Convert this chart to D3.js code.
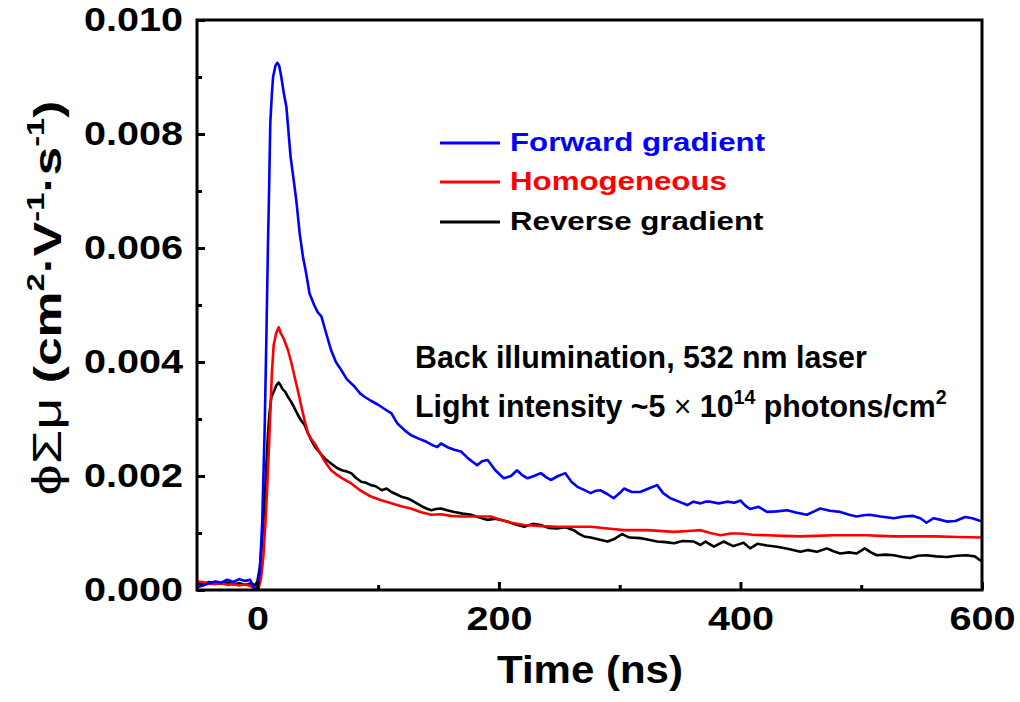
<!DOCTYPE html>
<html><head><meta charset="utf-8">
<script src="https://cdn.jsdelivr.net/npm/d3@7"></script>
<style>body{margin:0;background:#fff} text{font-family:"Liberation Sans",Arial,sans-serif;}</style>
</head><body><svg id="c" width="1020" height="702"></svg>
<script>
const xTicks = [0, 200, 400, 600];
const xMinorTicks = [100, 300, 500];
const yTicks = [0, 0.002, 0.004, 0.006, 0.008, 0.010];
const yMinorTicks = [0.001, 0.003, 0.005, 0.007, 0.009];
const seriesNames = ["Forward gradient", "Homogeneous", "Reverse gradient"];
const seriesColors = ["#0000ff", "#ff0000", "#000000"];

// [time (ns), phi*Sum(mu) (cm2 V-1 s-1)]
const forward = [[-50,0.00005],[-45,0.00008],[-40,0.00012],[-35,0.00015],[-30,0.00013],[-25,0.00018],[-20,0.00014],[-15,0.00019],[-10,0.00016],[-6,0.00018],[-3,0.00004],[0,0.00003],[2,0.0003],[4,0.0012],[6,0.0028],[7.5,0.0045],[8.8,0.0061],[9.4,0.0067],[10.7,0.0082],[12,0.0087],[13,0.0090],[15,0.0092],[16.5,0.00925],[18,0.0092],[19.8,0.0090],[22,0.0087],[24,0.00848],[27.5,0.0076],[30,0.0072],[32.2,0.00684],[35,0.00626],[37.7,0.00585],[40,0.0056],[43.2,0.0052],[47,0.0050],[50,0.00487],[53,0.0048],[57,0.0045],[61,0.00421],[65,0.0040],[69.4,0.00386],[74,0.0037],[80.4,0.00357],[85,0.00345],[88.7,0.00339],[94,0.00332],[100,0.00325],[105,0.00318],[111,0.0031],[116,0.00292],[122,0.0028],[127,0.00272],[133,0.00266],[140,0.0026],[145,0.00254],[149,0.00251],[152,0.00257],[158,0.0025],[163,0.00246],[168.6,0.00243],[175,0.0023],[182,0.00219],[186,0.00226],[190.7,0.00228],[197,0.0021],[204,0.00196],[210,0.002],[215,0.0021],[219,0.00202],[223.7,0.00196],[229,0.002],[234.7,0.00205],[239,0.00198],[243,0.00193],[249,0.002],[255,0.00205],[260,0.0019],[265,0.00181],[270,0.00176],[276,0.0017],[280,0.00174],[284,0.00175],[290,0.00168],[295,0.00161],[300,0.0017],[303.6,0.00178],[310,0.00172],[317,0.00172],[324,0.00178],[331,0.00184],[336,0.0017],[342,0.00161],[349,0.00155],[356,0.00149],[361,0.00155],[367,0.00152],[371,0.00155],[375,0.00155],[382,0.00152],[389,0.00155],[395,0.00153],[400,0.00157],[404,0.00148],[408,0.00142],[415,0.00146],[422,0.00137],[430,0.00138],[438.6,0.0014],[446,0.00136],[455,0.00132],[461,0.00138],[466,0.00143],[474,0.00139],[482.6,0.00137],[490,0.00132],[496,0.00129],[502,0.00131],[507,0.00132],[516,0.00129],[527,0.00126],[535,0.00129],[543,0.0013],[549,0.00126],[554,0.00118],[560,0.00126],[566,0.00123],[571,0.0012],[578,0.00121],[586,0.00128],[592,0.00126],[600,0.0012]];

const homogeneous = [[-50,0.00015],[-45,0.00014],[-40,0.00011],[-35,0.0001],[-30,0.00012],[-25,0.00009],[-20,0.0001],[-15,0.00008],[-10,0.0001],[-5,0.00006],[-2,0.00003],[1,0.00003],[3,0.0002],[5,0.0006],[7,0.0013],[9,0.0022],[10.5,0.003],[12,0.0038],[13.5,0.0043],[15.5,0.0045],[17.6,0.00461],[19.5,0.0045],[22,0.0044],[25.3,0.00421],[28,0.004],[30.8,0.00374],[33.5,0.0035],[36.4,0.00322],[39,0.00298],[41.9,0.00275],[44.6,0.00265],[47.4,0.00257],[52,0.0024],[56,0.00225],[61,0.0021],[66,0.00202],[71,0.00195],[77.7,0.00187],[85,0.00175],[94,0.00164],[102,0.00158],[111,0.00152],[119,0.00147],[127,0.00143],[135,0.00137],[144,0.00132],[152,0.00133],[160,0.0013],[168.6,0.00129],[180,0.00129],[193,0.00129],[200,0.00124],[210,0.00118],[221,0.00114],[235,0.00112],[248.5,0.00111],[262,0.00111],[276,0.00111],[290,0.00108],[303.6,0.00105],[323,0.00105],[345,0.00102],[360,0.00104],[367,0.00105],[375,0.001],[383.5,0.00096],[392,0.00099],[400,0.00099],[410,0.00097],[422,0.00096],[435,0.00095],[449.6,0.00094],[463,0.00095],[477,0.00096],[490,0.00096],[504.7,0.00096],[515,0.00095],[527,0.00094],[545,0.00094],[560,0.00094],[580,0.00093],[600,0.00092]];

const reverse = [[-50,0.00012],[-45,0.0001],[-40,0.00014],[-35,0.00012],[-30,0.00011],[-25,0.00013],[-20,0.0001],[-15,0.00012],[-10,0.00009],[-5,0.00012],[-2,0.00008],[0,0.00015],[2,0.0004],[3.3,0.0007],[5,0.0012],[6,0.00158],[7.5,0.0022],[8.8,0.00275],[10,0.0031],[11.6,0.00339],[14,0.0035],[16,0.0036],[17.6,0.00364],[19,0.0036],[21,0.00352],[23,0.00348],[25.3,0.00339],[28,0.0033],[30,0.00322],[33.6,0.00307],[36,0.00298],[39,0.0029],[41.9,0.00275],[44.6,0.00263],[48,0.0025],[52,0.0024],[56,0.0023],[61,0.00222],[66,0.00214],[70,0.0021],[74,0.00208],[77.7,0.00205],[82,0.00196],[86,0.0019],[90,0.00188],[94,0.00184],[98,0.00182],[103,0.00175],[107,0.00178],[111,0.00172],[115,0.00168],[120,0.00163],[124,0.00161],[127,0.00158],[132,0.00152],[136,0.00147],[140,0.00143],[144,0.0014],[148,0.00142],[152,0.00143],[157,0.0014],[163,0.00137],[170,0.00134],[177,0.00132],[184,0.00127],[190.7,0.00123],[197,0.00125],[207,0.0012],[214,0.00115],[221,0.00111],[228,0.00116],[234.7,0.00114],[241,0.00109],[248.5,0.00108],[255,0.0011],[262,0.00105],[266,0.00099],[270.5,0.00094],[276,0.00092],[282,0.00089],[290,0.00085],[296,0.0009],[302,0.00098],[308,0.00092],[317,0.00091],[324,0.00088],[331,0.00085],[338,0.00084],[345,0.00082],[352,0.00086],[361.4,0.00085],[367,0.00079],[371,0.00085],[378,0.00076],[386,0.00085],[394,0.00077],[402.6,0.00083],[408,0.00073],[414,0.00081],[422,0.00078],[430.3,0.00076],[440,0.00072],[449.6,0.00067],[456,0.0007],[463.4,0.00067],[471.6,0.00073],[477,0.00068],[482.6,0.00064],[490,0.00066],[496,0.00064],[503,0.00073],[508,0.00066],[513,0.00061],[520,0.00062],[527,0.00061],[534,0.00058],[540.5,0.00056],[547,0.0006],[554,0.00061],[562,0.00059],[571,0.00058],[579,0.0006],[587,0.00061],[594,0.00059],[600,0.0005]];

const allSeries = [forward, homogeneous, reverse];

const svg = d3.select("#c");
const L = 197, T = 20, R = 982, B = 590;
const x = d3.scaleLinear().domain([-50, 600]).range([L, R]);
const y = d3.scaleLinear().domain([0, 0.010]).range([B, T]);

svg.append("defs").append("clipPath").attr("id","clip")
  .append("rect").attr("x", L).attr("y", T).attr("width", R - L).attr("height", B - T);

const line = d3.line().x(d => x(d[0])).y(d => y(d[1]));
const plot = svg.append("g").attr("clip-path", "url(#clip)");
[2,1,0].forEach(i => {
  plot.append("path").datum(allSeries[i])
    .attr("d", line).attr("fill", "none")
    .attr("stroke", seriesColors[i]).attr("stroke-width", 2.6)
    .attr("stroke-linejoin", "round");
});

// axes
const SX = 1.2;
const yAx = svg.append("g").attr("transform", `translate(${L},0)`)
  .call(d3.axisLeft(y).tickValues(yTicks).tickSize(-8).tickPadding(14).tickFormat(d3.format(".3f")));
const yAxMinor = svg.append("g").attr("transform", `translate(${L},0)`)
  .call(d3.axisLeft(y).tickValues(yMinorTicks).tickSize(-5).tickFormat(""));
const xAx = svg.append("g").attr("transform", `translate(0,${B})`)
  .call(d3.axisBottom(x).tickValues(xTicks).tickSize(-8).tickPadding(17).tickFormat(d3.format("d")));
const xAxMinor = svg.append("g").attr("transform", `translate(0,${B})`)
  .call(d3.axisBottom(x).tickValues(xMinorTicks).tickSize(-5).tickFormat(""));
[yAx, yAxMinor, xAx, xAxMinor].forEach(g => {
  g.select(".domain").remove();
  g.selectAll(".tick line").attr("stroke", "#000").attr("stroke-width", 3);
  g.selectAll("text").attr("font-size", 33).attr("font-weight", "bold").attr("fill", "#000")
    .attr("font-family", '"Liberation Sans", Arial, sans-serif');
});
yAx.selectAll(".tick text").each(function() {
  const t = d3.select(this); const xx = +t.attr("x");
  t.attr("x", 0).attr("transform", `translate(${xx},0) scale(${SX},1)`);
});
xAx.selectAll(".tick text").each(function() {
  const t = d3.select(this); const yy = +t.attr("y");
  t.attr("y", 0).attr("transform", `translate(0,${yy}) scale(${SX},1)`);
});

// frame
svg.append("rect").attr("x", L).attr("y", T).attr("width", R - L).attr("height", B - T)
  .attr("fill", "none").attr("stroke", "#000").attr("stroke-width", 3);

function fit(textSel, target) {
  const w = textSel.node().getBBox().width;
  return target / w;
}

// x title
const xt = svg.append("g").attr("transform", "translate(590,683)")
  .append("text").attr("text-anchor", "middle").attr("font-size", 38).attr("font-weight", "bold")
  .text("Time (ns)");
xt.attr("transform", `scale(${fit(xt, 186)},1)`);

// y title
const yg = svg.append("g").attr("transform", "translate(61,298) rotate(-90)");
const ytx = yg.append("text").attr("text-anchor", "middle").attr("font-size", 38).attr("font-weight", "bold");
ytx.append("tspan").attr("font-weight", "normal").attr("font-size", 41).text("ϕΣμ");
ytx.append("tspan").text(" (cm");
ytx.append("tspan").attr("font-size", 24).attr("dy", -17).text("2");
ytx.append("tspan").attr("dy", 17).text("·V");
ytx.append("tspan").attr("font-size", 24).attr("dy", -17).text("-1");
ytx.append("tspan").attr("dy", 17).text("·s");
ytx.append("tspan").attr("font-size", 24).attr("dy", -17).text("-1");
ytx.append("tspan").attr("dy", 17).text(")");
ytx.attr("transform", `scale(${fit(ytx, 395)},1)`);

// legend
const legY = [143, 182, 222];
const LSX = 1.25;
seriesNames.forEach((name, i) => {
  svg.append("line").attr("x1", 440).attr("x2", 500).attr("y1", legY[i]).attr("y2", legY[i])
    .attr("stroke", seriesColors[i]).attr("stroke-width", 3);
  const g = svg.append("g").attr("transform", `translate(510,${legY[i] + 8})`);
  const t = g.append("text").attr("font-size", 25).attr("font-weight", "bold")
    .attr("fill", seriesColors[i]).text(name);
  t.attr("transform", `scale(${LSX},1)`);
});

// annotations
const a1g = svg.append("g").attr("transform", "translate(415,368)");
const a1 = a1g.append("text").attr("font-size", 31).attr("font-weight", "bold").text("Back illumination, 532 nm laser");
const a2g = svg.append("g").attr("transform", "translate(415,417)");
const a2 = a2g.append("text").attr("font-size", 31).attr("font-weight", "bold");
a2.append("tspan").text("Light intensity ~5 ");
a2.append("tspan").attr("font-weight", "normal").text("×");
a2.append("tspan").text(" 10");
a2.append("tspan").attr("font-size", 20).attr("dy", -13).text("14");
a2.append("tspan").attr("dy", 13).text(" photons/cm");
a2.append("tspan").attr("font-size", 20).attr("dy", -13).text("2");
const s2 = fit(a2, 532);
a2.attr("transform", `scale(${s2},1)`);
a1.attr("transform", `scale(${s2},1)`);
</script>
</body></html>
